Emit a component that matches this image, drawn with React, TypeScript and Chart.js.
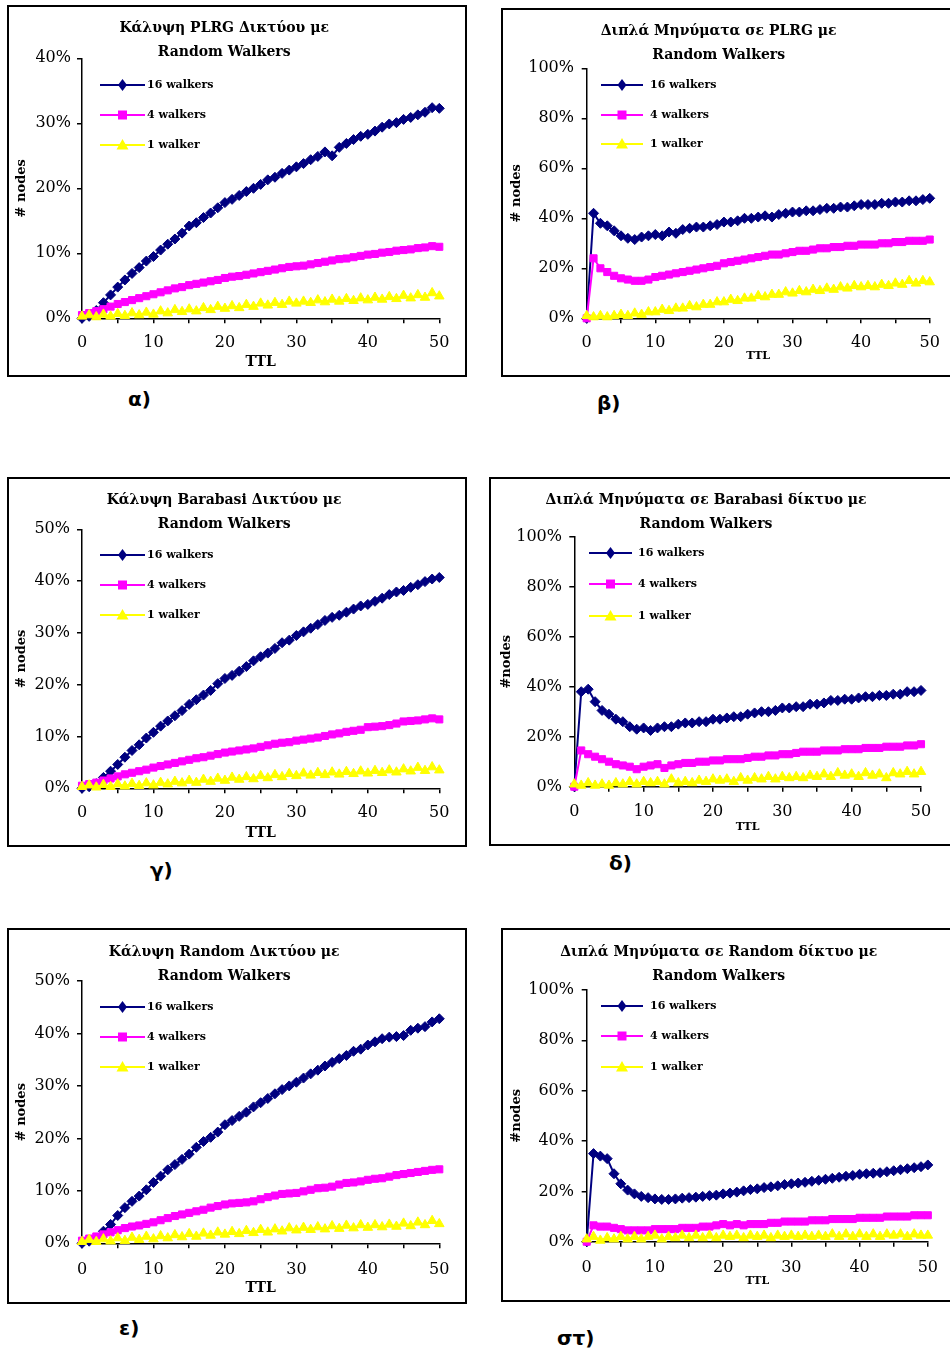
import React, { useEffect, useRef } from "react";
import { Chart, registerables } from "chart.js";

Chart.register(...registerables);

const SERIF = "'DejaVu Serif', 'Liberation Serif', serif";

// ---- data ----
const TTL = [
  0, 1, 2, 3, 4, 5, 6, 7, 8, 9, 10, 11, 12, 13, 14, 15, 16, 17, 18, 19, 20, 21, 22, 23, 24, 25,
  26, 27, 28, 29, 30, 31, 32, 33, 34, 35, 36, 37, 38, 39, 40, 41, 42, 43, 44, 45, 46, 47, 48, 49, 50,
];

const SERIES_NAMES = ["16 walkers", "4 walkers", "1 walker"];

// α) PLRG coverage
const plrgCoverage16 = [
  0, 0.3, 1.2, 2.4, 3.6, 4.8, 5.9, 6.9, 7.8, 8.8,
  9.5, 10.5, 11.4, 12.2, 13.1, 14.2, 14.7, 15.5, 16.2, 17.0,
  17.8, 18.3, 18.9, 19.5, 20.0, 20.6, 21.3, 21.7, 22.3, 22.8,
  23.3, 23.8, 24.4, 24.9, 25.6, 25.0, 26.3, 26.9, 27.5, 28.0,
  28.3, 28.8, 29.4, 29.9, 30.1, 30.6, 30.9, 31.3, 31.7, 32.4,
  32.3,
];
const plrgCoverage4 = [
  0.5, 0.8, 1.1, 1.4, 1.8, 2.2, 2.5, 2.8, 3.1, 3.4,
  3.7, 4.0, 4.3, 4.6, 4.8, 5.1, 5.3, 5.5, 5.7, 5.9,
  6.2, 6.4, 6.5, 6.7, 6.9, 7.1, 7.3, 7.5, 7.7, 7.9,
  8.0, 8.1, 8.3, 8.5, 8.7, 8.9, 9.1, 9.2, 9.4, 9.6,
  9.8, 9.9, 10.1, 10.2, 10.4, 10.5, 10.6, 10.8, 10.9, 11.1,
  11.0,
];
const plrgCoverage1 = [
  0.3, 0.5, 0.2, 0.6, 0.3, 0.7, 0.4, 0.8, 0.5, 0.9,
  0.6, 1.1, 0.8, 1.3, 1.0, 1.4, 1.1, 1.6, 1.3, 1.8,
  1.5, 1.9, 1.6, 2.1, 1.8, 2.3, 2.0, 2.4, 2.1, 2.6,
  2.3, 2.6, 2.4, 2.8, 2.5, 2.9, 2.6, 3.0, 2.7, 3.1,
  2.8, 3.2, 2.9, 3.3, 3.0, 3.5, 3.1, 3.6, 3.2, 3.9,
  3.4,
];

// β) PLRG duplicate messages
const plrgDuplicates16 = [
  0, 42, 38, 37, 35, 33, 32, 31.5, 32.5, 33,
  33.5, 33, 34.5, 34, 35.5, 36, 36.5, 36.5, 37, 37.5,
  38.5, 38.5, 39, 40, 40, 40.5, 41, 40.5, 41.5, 42,
  42.5, 42.5, 43, 43, 43.5, 44, 44, 44.5, 44.5, 45,
  45.5, 45.5, 45.5, 46, 46, 46.5, 46.5, 47, 47, 47.5,
  48,
];
const plrgDuplicates4 = [
  0, 24, 20, 18.5, 17, 16, 15.5, 15, 15, 15.5,
  16.5, 17, 17.5, 18, 18.5, 19, 19.5, 20, 20.5, 21,
  22, 22.5, 23, 23.5, 24, 24.5, 25, 25.5, 25.5, 26,
  26.5, 27, 27, 27.5, 28, 28, 28.5, 28.5, 29, 29,
  29.5, 29.5, 29.5, 30, 30, 30.5, 30.5, 31, 31, 31,
  31.5,
];
const plrgDuplicates1 = [
  1, 0.5, 1, 0.5, 1, 1.5, 1, 2, 1.5, 2.5,
  2.5, 3.5, 3, 4, 4, 5, 4.5, 5.5, 5.5, 6.5,
  6.5, 7.5, 7, 8, 8, 9, 8.5, 9.5, 9.5, 10.5,
  10, 11, 10.5, 11.5, 11, 12, 11.5, 12.5, 12, 13,
  12.5, 13, 12.5, 13.5, 13, 14, 13.5, 15, 14, 15,
  14.5,
];

// γ) Barabasi coverage
const barabasiCoverage16 = [
  0, 0.3, 0.9, 2.1, 3.3, 4.6, 6.0, 7.3, 8.4, 9.7,
  10.8, 12.0, 13.0, 14.0, 15.0, 16.2, 17.1, 18.0, 18.9, 20.2,
  21.2, 21.8, 22.6, 23.5, 24.6, 25.4, 26.1, 27.0, 28.1, 28.6,
  29.5, 30.2, 30.9, 31.6, 32.4, 33.0, 33.4, 34.0, 34.6, 35.2,
  35.5, 36.1, 36.7, 37.4, 37.9, 38.2, 38.8, 39.3, 39.9, 40.4,
  40.7,
];
const barabasiCoverage4 = [
  0.5, 0.8, 1.1, 1.5, 1.9, 2.3, 2.7, 3.0, 3.3, 3.6,
  4.0, 4.3, 4.6, 4.9, 5.2, 5.5, 5.8, 6.0, 6.3, 6.6,
  6.9, 7.1, 7.3, 7.5, 7.7, 8.0, 8.3, 8.6, 8.8, 8.9,
  9.2, 9.4, 9.6, 9.8, 10.1, 10.4, 10.6, 10.9, 11.1, 11.3,
  11.8, 11.9, 12.0, 12.2, 12.5, 12.9, 13.0, 13.1, 13.3, 13.5,
  13.3,
];
const barabasiCoverage1 = [
  0.3, 0.6, 0.2, 0.7, 0.3, 0.8, 0.4, 0.9, 0.5, 1.0,
  0.6, 1.1, 0.8, 1.3, 1.0, 1.5, 1.1, 1.7, 1.3, 1.9,
  1.5, 2.1, 1.7, 2.2, 1.8, 2.4, 2.0, 2.6, 2.2, 2.8,
  2.4, 2.9, 2.5, 3.0, 2.6, 3.1, 2.7, 3.2, 2.8, 3.3,
  2.9, 3.4, 3.0, 3.5, 3.1, 3.7, 3.3, 4.0, 3.4, 4.1,
  3.5,
];

// δ) Barabasi duplicate messages
const barabasiDuplicates16 = [
  0, 38, 39, 34, 30.5, 29, 27, 26, 24, 23,
  23.5, 22.5, 23.5, 24, 24, 25, 25.5, 25.5, 26, 26,
  27, 27, 27.5, 28, 28, 29, 29.5, 30, 30, 30.5,
  31.5, 31.5, 32, 32, 33, 33, 33.5, 34.5, 34.5, 35,
  35, 35.5, 36, 36, 36.5, 36.5, 37, 37, 38, 38,
  38.5,
];
const barabasiDuplicates4 = [
  0, 14.5, 13, 12, 11, 10, 9, 8.5, 8, 7,
  8, 8.5, 9, 7.5, 8.5, 9, 9.5, 9.5, 10, 10,
  10.5, 10.5, 11, 11, 11, 11.5, 12, 12, 12.5, 12.5,
  13, 13, 13.5, 14, 14, 14, 14.5, 14.5, 14.5, 15,
  15, 15, 15.5, 15.5, 15.5, 16, 16, 16, 16.5, 16.5,
  17,
];
const barabasiDuplicates1 = [
  1, 0.5, 1.5, 0.5, 1, 0.5, 1.5, 1, 2, 1,
  2, 1.5, 2, 1, 3, 1.5, 2, 1.5, 2.5, 2,
  3, 2.5, 3, 2, 3.5, 2.5, 3.5, 3, 4, 3,
  4, 3.5, 4, 3.5, 4.5, 4, 5, 4, 5.5, 4.5,
  5, 4, 5.5, 4.5, 5, 3.5, 5.5, 5, 6, 5,
  6,
];

// ε) Random coverage
const randomCoverage16 = [
  0, 0.4, 1.0, 2.3, 3.6, 5.3, 6.8, 8.0, 9.0, 10.2,
  11.6, 12.8, 14.0, 15.0, 16.0, 17.0, 18.3, 19.4, 20.2, 21.2,
  22.6, 23.4, 24.2, 25.0, 26.0, 26.8, 27.6, 28.5, 29.3, 30.0,
  30.7, 31.5, 32.3, 33.0, 33.8, 34.5, 35.2, 35.8, 36.6, 37.0,
  37.8, 38.4, 39.0, 39.3, 39.4, 39.6, 40.6, 41.0, 41.3, 42.2,
  42.8,
];
const randomCoverage4 = [
  0.5, 0.9, 1.3, 1.7, 2.1, 2.5, 2.9, 3.2, 3.4, 3.7,
  4.0, 4.4, 4.8, 5.2, 5.5, 5.8, 6.1, 6.4, 6.8, 7.1,
  7.4, 7.6, 7.7, 7.8, 8.0, 8.4, 8.8, 9.1, 9.4, 9.5,
  9.6, 9.9, 10.2, 10.5, 10.6, 10.8, 11.2, 11.5, 11.6, 11.8,
  12.1, 12.3, 12.4, 12.7, 13.0, 13.2, 13.4, 13.6, 13.8, 14.0,
  14.1,
];
const randomCoverage1 = [
  0.3, 0.7, 0.3, 0.8, 0.4, 1.0, 0.5, 1.1, 0.7, 1.3,
  0.8, 1.4, 1.0, 1.6, 1.2, 1.8, 1.3, 1.9, 1.5, 2.1,
  1.7, 2.2, 1.8, 2.4, 2.0, 2.6, 2.1, 2.7, 2.3, 2.9,
  2.5, 3.0, 2.6, 3.1, 2.7, 3.3, 2.8, 3.4, 2.9, 3.5,
  3.0, 3.5, 3.1, 3.6, 3.2, 3.8, 3.3, 4.0, 3.5, 4.3,
  3.7,
];

// στ) Random duplicate messages
const randomDuplicates16 = [
  0, 35, 34, 33, 27, 23, 20.5, 19, 18, 17.5,
  17, 16.8, 16.8, 17, 17.3, 17.5, 17.7, 18, 18.3, 18.5,
  19, 19.3, 19.7, 20.2, 20.7, 21, 21.5, 21.8, 22.2, 22.7,
  23, 23.3, 23.6, 24, 24.4, 24.8, 25.2, 25.6, 26, 26.3,
  26.8, 27, 27.2, 27.4, 27.8, 28.2, 28.6, 29, 29.4, 29.8,
  30.5,
];
const randomDuplicates4 = [
  0, 6.5, 6, 6, 5.5, 5, 4.5, 4.5, 4.5, 4.5,
  5, 5, 5, 5, 5.5, 5.5, 5.5, 6, 6, 6.5,
  7, 6.5, 7, 6.5, 7, 7, 7, 7.5, 7.5, 8,
  8, 8, 8, 8.5, 8.5, 8.5, 9, 9, 9, 9,
  9.5, 9.5, 9.5, 9.5, 10, 10, 10, 10, 10.5, 10.5,
  10.5,
];
const randomDuplicates1 = [
  1, 2, 0.5, 1.5, 1, 2, 1, 2, 1, 2,
  2.5, 1, 2, 1.5, 2.5, 1.5, 2.5, 1.5, 2.5, 1.5,
  2.5, 2, 2.5, 1.5, 2.5, 2, 2.5, 1.5, 2.5, 2,
  2.5, 2, 2.5, 2, 2.5, 2, 3, 2, 3, 2,
  3, 2, 3, 2, 3, 2.5, 3, 2, 3, 2.5,
  2.5,
];

// ---- styles ----
const SERIES_COLORS = ["#000080", "#FF00FF", "#FFFF00"];
const POINT_STYLES = ["rectRot", "rect", "triangle"];
const POINT_RADII = [5, 5, 5.5];

type Geo = {
  box: [number, number, number, number];
  area: [number, number, number, number];
  titleLine1: number;
  yTitleX: number;
  yTickRight: number;
  xTickY: number;
  ttlY: number;
  ttlSize: number;
  legend: { x0: number; x1: number; textX: number; rows: number[] };
  tag: { text: string; x: number; y: number };
};

type PanelSpec = {
  title: string[];
  yTitle: string;
  yMax: number;
  yStep: number;
  series: number[][];
  geo: Geo;
};

const PANELS: PanelSpec[] = [
  {
    title: ["Κάλυψη PLRG Δικτύου με", "Random Walkers"],
    yTitle: "# nodes",
    yMax: 40,
    yStep: 10,
    series: [plrgCoverage16, plrgCoverage4, plrgCoverage1],
    geo: {
      box: [7, 5, 467, 377],
      area: [82, 58.3, 439.3, 318.3],
      titleLine1: 28,
      yTitleX: 22,
      yTickRight: 71,
      xTickY: 343,
      ttlY: 362,
      ttlSize: 14,
      legend: { x0: 100, x1: 145, textX: 147, rows: [85, 115, 145] },
      tag: { text: "α)", x: 128, y: 387 },
    },
  },
  {
    title: ["Διπλά Μηνύματα σε PLRG με", "Random Walkers"],
    yTitle: "# nodes",
    yMax: 100,
    yStep: 20,
    series: [plrgDuplicates16, plrgDuplicates4, plrgDuplicates1],
    geo: {
      box: [501, 8, 955, 377],
      area: [586.7, 68.3, 934.3, 318.3],
      titleLine1: 31.5,
      yTitleX: 517,
      yTickRight: 574,
      xTickY: 343,
      ttlY: 356,
      ttlSize: 11,
      legend: { x0: 601, x1: 643, textX: 650, rows: [85, 115, 144] },
      tag: { text: "β)", x: 597, y: 391 },
    },
  },
  {
    title: ["Κάλυψη Barabasi Δικτύου με", "Random Walkers"],
    yTitle: "# nodes",
    yMax: 50,
    yStep: 10,
    series: [barabasiCoverage16, barabasiCoverage4, barabasiCoverage1],
    geo: {
      box: [7, 477, 467, 847],
      area: [82, 529.3, 439.3, 788.3],
      titleLine1: 500,
      yTitleX: 22,
      yTickRight: 70,
      xTickY: 813,
      ttlY: 833,
      ttlSize: 14,
      legend: { x0: 100, x1: 145, textX: 147, rows: [555, 585, 615] },
      tag: { text: "γ)", x: 150, y: 858 },
    },
  },
  {
    title: ["Διπλά Μηνύματα σε Barabasi δίκτυο με", "Random Walkers"],
    yTitle: "#nodes",
    yMax: 100,
    yStep: 20,
    series: [barabasiDuplicates16, barabasiDuplicates4, barabasiDuplicates1],
    geo: {
      box: [489, 477, 955, 846],
      area: [574.3, 536.7, 921, 786.7],
      titleLine1: 500.5,
      yTitleX: 507,
      yTickRight: 562,
      xTickY: 811.7,
      ttlY: 826.7,
      ttlSize: 11,
      legend: { x0: 589, x1: 632, textX: 638, rows: [553, 584, 616] },
      tag: { text: "δ)", x: 609, y: 851 },
    },
  },
  {
    title: ["Κάλυψη Random Δικτύου με", "Random Walkers"],
    yTitle: "# nodes",
    yMax: 50,
    yStep: 10,
    series: [randomCoverage16, randomCoverage4, randomCoverage1],
    geo: {
      box: [7, 928, 467, 1304],
      area: [82, 981, 439.3, 1243.3],
      titleLine1: 952.3,
      yTitleX: 22,
      yTickRight: 70,
      xTickY: 1270,
      ttlY: 1288.3,
      ttlSize: 14,
      legend: { x0: 100, x1: 145, textX: 147, rows: [1007, 1037, 1067] },
      tag: { text: "ε)", x: 119, y: 1316 },
    },
  },
  {
    title: ["Διπλά Μηνύματα σε Random δίκτυο με", "Random Walkers"],
    yTitle: "#nodes",
    yMax: 100,
    yStep: 20,
    series: [randomDuplicates16, randomDuplicates4, randomDuplicates1],
    geo: {
      box: [501, 928, 955, 1302],
      area: [586.7, 990, 934.3, 1241.7],
      titleLine1: 952.3,
      yTitleX: 517,
      yTickRight: 574,
      xTickY: 1268.3,
      ttlY: 1281,
      ttlSize: 11,
      legend: { x0: 601, x1: 643, textX: 650, rows: [1006, 1036, 1067] },
      tag: { text: "στ)", x: 557, y: 1326 },
    },
  },
];

function drawLegendMarker(ctx: CanvasRenderingContext2D, style: string, x: number, y: number, color: string) {
  ctx.fillStyle = color;
  ctx.beginPath();
  if (style === "rectRot") {
    ctx.moveTo(x, y - 6);
    ctx.lineTo(x + 4.5, y);
    ctx.lineTo(x, y + 6);
    ctx.lineTo(x - 4.5, y);
  } else if (style === "rect") {
    ctx.rect(x - 4.5, y - 4.5, 9, 9);
  } else {
    ctx.moveTo(x, y - 6);
    ctx.lineTo(x + 6, y + 4.5);
    ctx.lineTo(x - 6, y + 4.5);
  }
  ctx.closePath();
  ctx.fill();
}

function Panel({ p }: { p: PanelSpec }) {
  const ref = useRef<HTMLCanvasElement | null>(null);
  const g = p.geo;
  const cl = g.box[0] + 2;
  const ct = g.box[1] + 2;
  const cr = Math.min(g.box[2], 952) - 2;
  const cb = g.box[3] - 2;
  const cw = cr - cl;
  const ch = cb - ct;

  useEffect(() => {
    if (!ref.current) return;
    const titleLH = 24;
    const titlePadTop = g.titleLine1 - ct - titleLH / 2;
    const titlePadBottom = g.area[1] - ct - titlePadTop - 2 * titleLH;

    const legendPlugin = {
      id: "walkerLegend",
      afterDraw(chart: any) {
        const ctx: CanvasRenderingContext2D = chart.ctx;
        ctx.save();
        chart.data.datasets.forEach((ds: any, i: number) => {
          const y = g.legend.rows[i] - ct;
          const x0 = g.legend.x0 - cl;
          const x1 = g.legend.x1 - cl;
          ctx.strokeStyle = SERIES_COLORS[i];
          ctx.lineWidth = 2;
          ctx.beginPath();
          ctx.moveTo(x0, y);
          ctx.lineTo(x1, y);
          ctx.stroke();
          drawLegendMarker(ctx, POINT_STYLES[i], (x0 + x1) / 2, y, SERIES_COLORS[i]);
          ctx.fillStyle = "#000";
          ctx.font = `bold 11px ${SERIF}`;
          ctx.textAlign = "left";
          ctx.textBaseline = "middle";
          ctx.fillText(ds.label, g.legend.textX - cl, y);
        });
        ctx.restore();
      },
    };

    const chart = new Chart(ref.current, {
      type: "line",
      data: {
        datasets: p.series.map((arr, i) => ({
          label: SERIES_NAMES[i],
          data: TTL.map((t, k) => ({ x: t, y: arr[k] })),
          borderColor: SERIES_COLORS[i],
          backgroundColor: SERIES_COLORS[i],
          borderWidth: 2,
          pointStyle: POINT_STYLES[i] as any,
          pointRadius: POINT_RADII[i],
          pointBorderWidth: 1,
          pointBackgroundColor: SERIES_COLORS[i],
          pointBorderColor: SERIES_COLORS[i],
          tension: 0,
          clip: false as any,
          order: 2 - i,
        })),
      },
      options: {
        animation: false,
        responsive: false,
        devicePixelRatio: 1,
        events: [],
        layout: { padding: { left: 0, top: 0, right: cr - g.area[2], bottom: 0 } },
        plugins: {
          legend: { display: false },
          tooltip: { enabled: false },
          title: {
            display: true,
            text: p.title,
            color: "#000",
            font: { family: SERIF, size: 14, weight: "bold", lineHeight: titleLH / 14 },
            padding: { top: titlePadTop, bottom: titlePadBottom },
          },
        },
        scales: {
          x: {
            type: "linear",
            min: 0,
            max: 50,
            afterFit: (s: any) => {
              s.height = cb - g.area[3];
            },
            ticks: {
              stepSize: 5,
              autoSkip: false,
              maxRotation: 0,
              color: "#000",
              font: { family: SERIF, size: 16 },
              padding: g.xTickY - g.area[3] - 5 - 9.6,
              callback: (v: any) => (Number(v) % 10 === 0 ? String(v) : ""),
            },
            grid: { display: true, drawOnChartArea: false, drawTicks: true, tickLength: 5, color: "#000", lineWidth: 1.5 },
            border: { display: true, color: "#000", width: 1.5 },
            title: {
              display: true,
              text: "TTL",
              color: "#000",
              font: { family: SERIF, size: g.ttlSize, weight: "bold" },
              padding: { top: 0, bottom: cb - g.ttlY - (g.ttlSize * 1.2) / 2 },
            },
          },
          y: {
            type: "linear",
            min: 0,
            max: p.yMax,
            afterFit: (s: any) => {
              s.width = g.area[0] - cl;
            },
            ticks: {
              stepSize: p.yStep,
              color: "#000",
              font: { family: SERIF, size: 16 },
              padding: g.area[0] - g.yTickRight - 5,
              callback: (v: any) => `${v}%`,
            },
            grid: { display: true, drawOnChartArea: false, drawTicks: true, tickLength: 5, color: "#000", lineWidth: 1.5 },
            border: { display: true, color: "#000", width: 1.5 },
            title: {
              display: true,
              text: p.yTitle,
              color: "#000",
              font: { family: SERIF, size: 13, weight: "bold" },
              padding: { top: g.yTitleX - cl - 7.8, bottom: 0 },
            },
          },
        },
      } as any,
      plugins: [legendPlugin],
    });
    return () => chart.destroy();
  }, []);

  return (
    <>
      <div
        style={{
          position: "absolute",
          left: g.box[0],
          top: g.box[1],
          width: g.box[2] - g.box[0],
          height: g.box[3] - g.box[1],
          border: "2px solid #000",
          boxSizing: "border-box",
        }}
      />
      <canvas
        ref={ref}
        width={cw}
        height={ch}
        style={{ position: "absolute", left: cl, top: ct, width: cw, height: ch }}
      />
      <div
        style={{
          position: "absolute",
          left: g.tag.x,
          top: g.tag.y,
          font: "bold 20px 'DejaVu Sans', sans-serif",
          lineHeight: "24px",
          color: "#000",
          whiteSpace: "nowrap",
        }}
      >
        {g.tag.text}
      </div>
    </>
  );
}

export default function App() {
  return (
    <div
      style={{
        position: "absolute",
        left: 0,
        top: 0,
        width: 950,
        height: 1349,
        overflow: "hidden",
        background: "#fff",
      }}
    >
      {PANELS.map((p, i) => (
        <Panel key={i} p={p} />
      ))}
    </div>
  );
}
